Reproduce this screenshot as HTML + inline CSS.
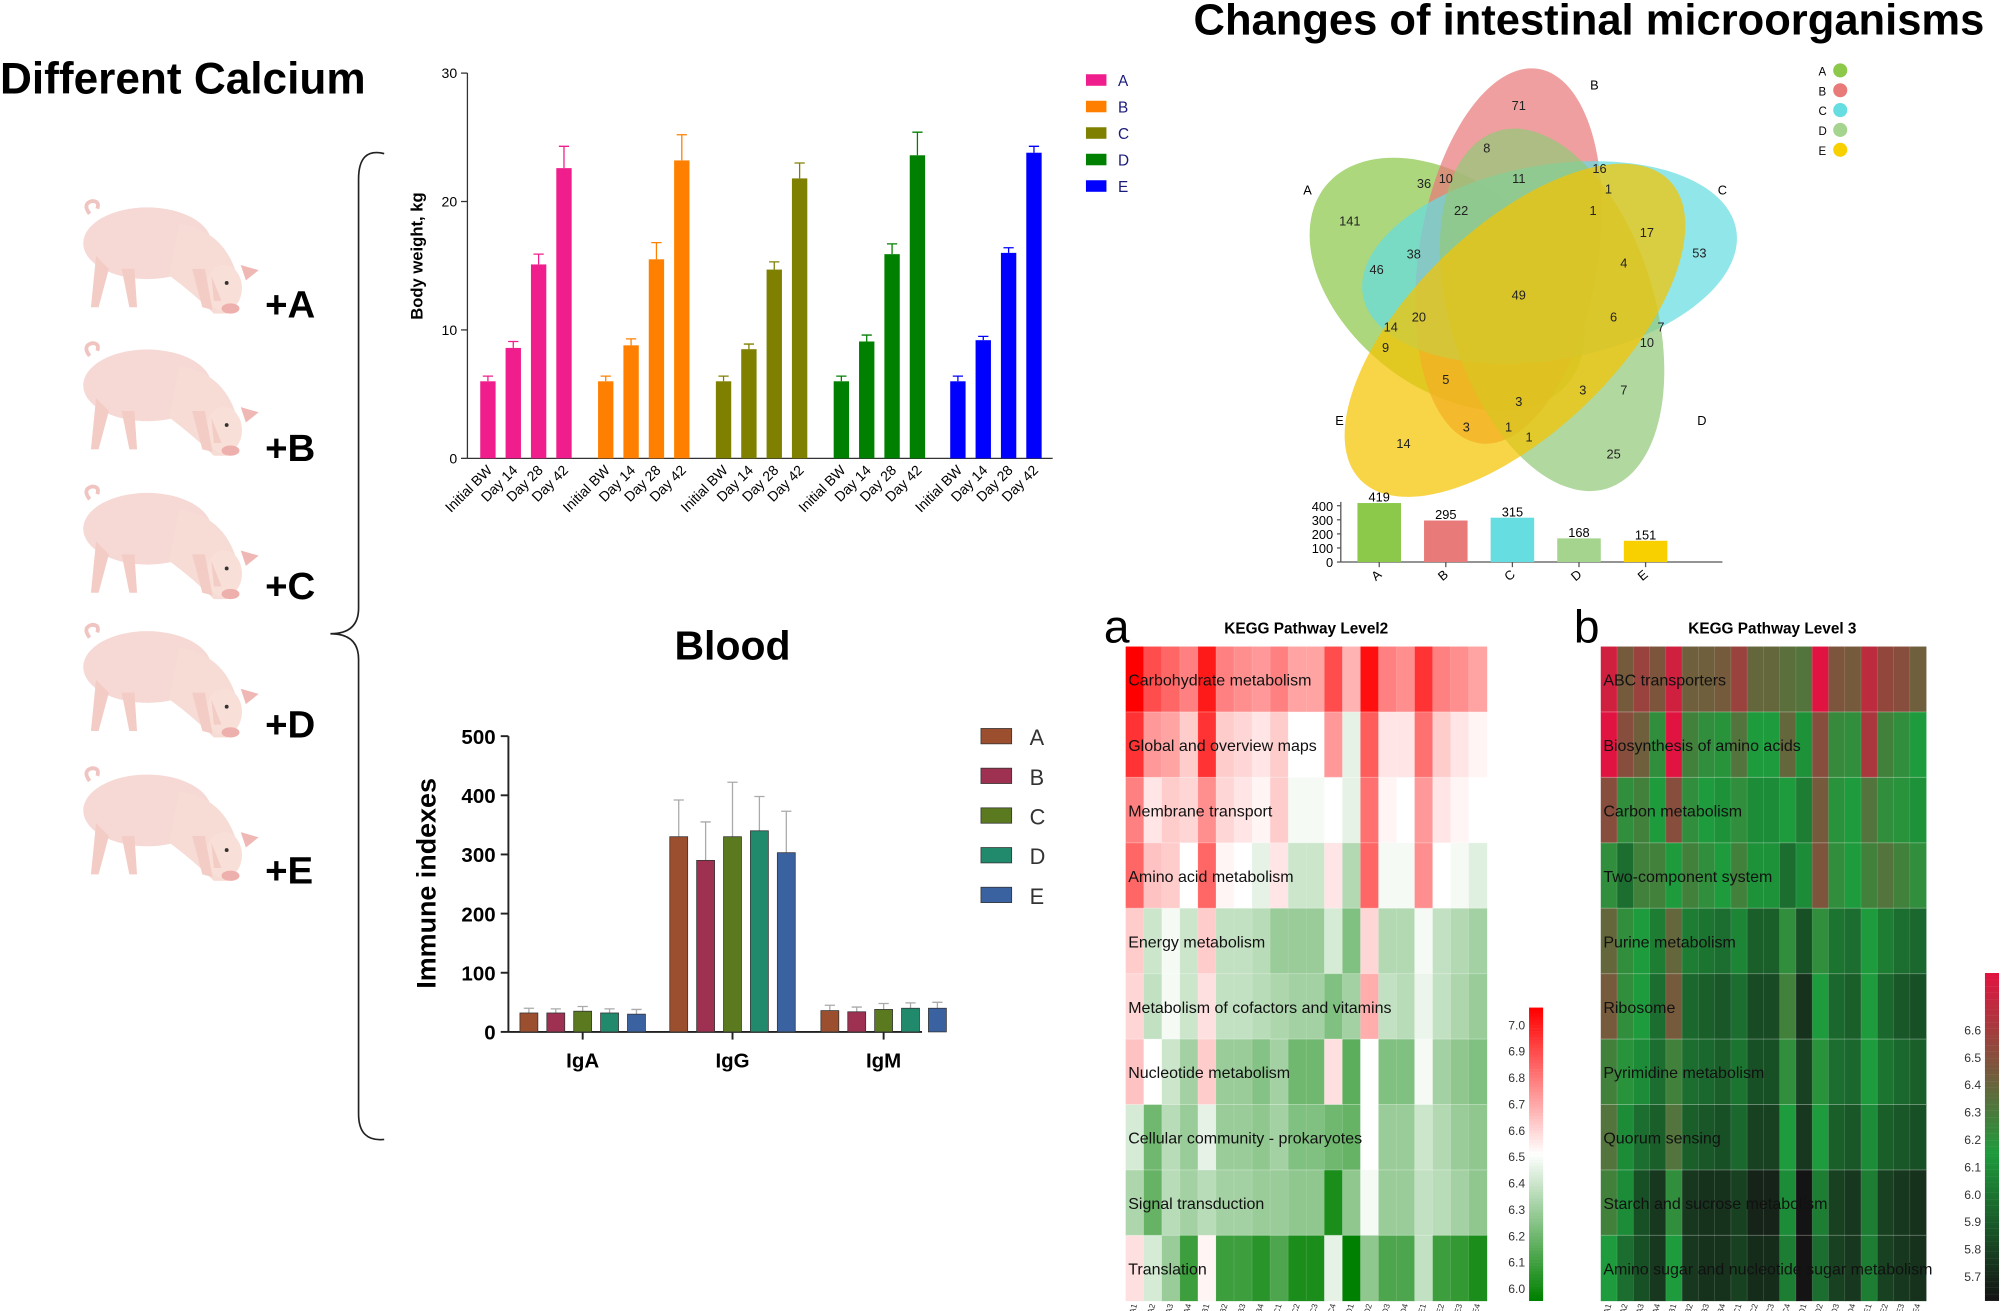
<!DOCTYPE html>
<html><head><meta charset="utf-8"><style>
html,body{margin:0;padding:0;background:#fff;width:2008px;height:1311px;overflow:hidden}
svg{display:block}
text{font-family:"Liberation Sans",Arial,sans-serif}
</style></head><body>
<svg id="s" width="2008" height="1311" viewBox="0 0 1568 1024" preserveAspectRatio="none" xmlns="http://www.w3.org/2000/svg">
<defs>
<g id="pig">
<path d="M70,12 q-6,-8 2,-10 q6,0 4,6" fill="none" stroke="#f0c4c0" stroke-width="3"/>
<ellipse cx="115" cy="35" rx="50" ry="28" fill="#f6d8d4"/>
<path d="M140,20 q35,5 45,40 q5,20 -8,30 l-10,0 q-15,-15 -35,-30 z" fill="#f7dcd6"/>
<ellipse cx="175" cy="70" rx="14" ry="18" fill="#f8e0d8"/>
<path d="M188,52 l14,4 -10,8 z" fill="#f0b8b4"/>
<ellipse cx="180" cy="86" rx="7" ry="4" fill="#eeb0ac"/>
<path d="M75,45 l-4,40 6,0 8,-30 z M95,55 l6,30 6,0 -2,-30 z M150,55 l8,30 8,2 -6,-32 z M165,60 l2,20 6,0 z" fill="#f3ccc6"/>
<circle cx="177" cy="66" r="1.5" fill="#333"/>
</g>
</defs>
<text x="0" y="73" font-size="34.5" font-weight="bold">Different Calcium</text>
<use href="#pig" x="0" y="155"/><text x="207" y="248" font-size="30" font-weight="bold">+A</text>
<use href="#pig" x="0" y="266"/><text x="207" y="360" font-size="30" font-weight="bold">+B</text>
<use href="#pig" x="0" y="378"/><text x="207" y="468" font-size="30" font-weight="bold">+C</text>
<use href="#pig" x="0" y="486"/><text x="207" y="576" font-size="30" font-weight="bold">+D</text>
<use href="#pig" x="0" y="598"/><text x="207" y="690" font-size="30" font-weight="bold">+E</text>
<path d="M300,120 q-20,-5 -20,20 l0,335 q0,20 -22,20 q22,0 22,20 l0,355 q0,22 20,20" fill="none" stroke="#222" stroke-width="1.3"/>
<g id="bw"></g>
<g id="blood"></g>
<g id="venn"></g>
<g id="hm"></g>
</svg>
<script>
var NS="http://www.w3.org/2000/svg";
function el(p,t,a,txt){var e=document.createElementNS(NS,t);for(var k in a)e.setAttribute(k,a[k]);if(txt!==undefined)e.textContent=txt;p.appendChild(e);return e;}
var g=document.getElementById('bw');
el(g,'line',{x1:365,y1:57,x2:365,y2:358,stroke:'#333','stroke-width':1});
el(g,'line',{x1:365,y1:358,x2:822,y2:358,stroke:'#333','stroke-width':1});
[0,10,20,30].forEach(function(v){var y=358-v*10.03;el(g,'line',{x1:360,y1:y,x2:365,y2:y,stroke:'#333'});el(g,'text',{x:357,y:y+4,'font-size':11,'text-anchor':'end'},v);});
el(g,'text',{x:330,y:200,'font-size':13,'font-weight':'bold','text-anchor':'middle',transform:'rotate(-90 330 200)'},'Body weight, kg');
var cols=['#f01e8c','#ff8000','#808000','#008000','#0000ff'];
var vals=[[6,8.6,15.1,22.6],[6,8.8,15.5,23.2],[6,8.5,14.7,21.8],[6,9.1,15.9,23.6],[6,9.2,16,23.8]];
var errs=[[.4,.5,.8,1.7],[.4,.5,1.3,2],[.4,.4,.6,1.2],[.4,.5,.8,1.8],[.4,.3,.4,.5]];
var gx=[381,473,565,657,748];var lab=['Initial BW','Day 14','Day 28','Day 42'];
for(var i=0;i<5;i++)for(var j=0;j<4;j++){var cx=gx[i]+j*19.8,h=vals[i][j]*10.03,y=358-h;
el(g,'rect',{x:cx-6,y:y,width:12,height:h,fill:cols[i]});
var ey=358-(vals[i][j]+errs[i][j])*10.03;el(g,'path',{d:'M'+cx+','+y+'V'+ey+'M'+(cx-4)+','+ey+'h8',stroke:cols[i],fill:'none'});
el(g,'text',{x:cx+4,y:368,'font-size':11,'text-anchor':'end',transform:'rotate(-45 '+(cx+4)+' 368)'},lab[j]);}
['A','B','C','D','E'].forEach(function(l,i){var y=63+i*20.7;el(g,'rect',{x:848,y:y-5,width:16,height:9,fill:cols[i]});el(g,'text',{x:873,y:y+4,'font-size':12,fill:'#1a1a7a'},l);});
g=document.getElementById('blood');
el(g,'text',{x:572,y:515,'font-size':32,'font-weight':'bold','text-anchor':'middle'},'Blood');
el(g,'line',{x1:397,y1:575,x2:397,y2:806,stroke:'#222','stroke-width':1.5});
el(g,'line',{x1:397,y1:806,x2:720,y2:806,stroke:'#222','stroke-width':1.5});
for(var v=0;v<=500;v+=100){var y=806-v*0.462;el(g,'line',{x1:391,y1:y,x2:397,y2:y,stroke:'#222','stroke-width':1.5});el(g,'text',{x:387,y:y+6,'font-size':16,'font-weight':'bold','text-anchor':'end'},v);}
el(g,'text',{x:340,y:690,'font-size':21,'font-weight':'bold','text-anchor':'middle',transform:'rotate(-90 340 690)'},'Immune indexes');
var bc=['#9c4f2e','#9e3152','#5b7a20','#218a6c','#3a62a0'];
var bv=[[32,32,35,32,30],[330,290,330,340,303],[36,34,38,40,40]];var be=[[8,7,8,7,8],[62,65,92,58,70],[9,8,10,9,10]];
var cen=[455,572,690];['IgA','IgG','IgM'].forEach(function(n,i){el(g,'line',{x1:cen[i],y1:806,x2:cen[i],y2:812,stroke:'#222','stroke-width':1.5});el(g,'text',{x:cen[i],y:834,'font-size':16,'font-weight':'bold','text-anchor':'middle'},n);
for(var j=0;j<5;j++){var cx=cen[i]-42+j*21,h=bv[i][j]*0.462,y=806-h,ey=806-(bv[i][j]+be[i][j])*0.462;
el(g,'path',{d:'M'+cx+','+y+'V'+ey+'M'+(cx-4)+','+ey+'h8',stroke:'#aaa',fill:'none'});
el(g,'rect',{x:cx-7,y:y,width:14,height:h,fill:bc[j],stroke:'#333','stroke-width':.6});}});
['A','B','C','D','E'].forEach(function(l,i){var y=575+i*31;el(g,'rect',{x:766,y:y-6,width:24,height:12,fill:bc[i],stroke:'#333','stroke-width':.6});el(g,'text',{x:804,y:y+7,'font-size':17,fill:'#333'},l);});
g=document.getElementById('venn');
el(g,'text',{x:932,y:27,'font-size':34,'font-weight':'bold'},'Changes of intestinal microorganisms');
var E=[['#8cc84a',1130,222,122,80,39],['#e97a7a',1178,200,70,148,9],['#66dde0',1210,205,148,76,-10],['#93c97a',1212,242,80,146,-17],['#f5c400',1183,258,168,80,-44]];
E.forEach(function(e){el(g,'ellipse',{cx:0,cy:0,rx:e[3],ry:e[4],fill:e[0],'fill-opacity':0.72,transform:'translate('+e[1]+','+e[2]+') rotate('+e[5]+')'});});
var N=[[1186,82,71],[1161,115,8],[1249,131,16],[1112,143,36],[1129,139,10],[1186,139,11],[1256,147,1],[1244,164,1],[1141,164,22],[1054,172,141],[1286,181,17],[1327,197,53],[1104,198,38],[1268,205,4],[1075,210,46],[1186,230,49],[1108,247,20],[1260,247,6],[1086,255,14],[1297,255,7],[1082,271,9],[1286,267,10],[1129,296,5],[1236,304,3],[1268,304,7],[1186,313,3],[1145,333,3],[1178,333,1],[1194,341,1],[1096,346,14],[1260,354,25]];
N.forEach(function(n){el(g,'text',{x:n[0],y:n[1]+4,'font-size':10,'text-anchor':'middle',fill:'#222'},n[2]);});
[['A',1021,148],['B',1245,66],['C',1345,148],['D',1329,328],['E',1046,328]].forEach(function(t){el(g,'text',{x:t[1],y:t[2]+4,'font-size':10,'text-anchor':'middle'},t[0]);});
var vc=['#8cc84a','#e97a7a','#66dde0','#a5d48e','#f8d000'];
['A','B','C','D','E'].forEach(function(l,i){var y=55+i*15.5;el(g,'text',{x:1420,y:y+4,'font-size':9},l);el(g,'circle',{cx:1437,cy:y,r:5.5,fill:vc[i]});});
el(g,'line',{x1:1047,y1:392,x2:1047,y2:439,stroke:'#555'});el(g,'line',{x1:1047,y1:439,x2:1345,y2:439,stroke:'#555'});
[0,100,200,300,400].forEach(function(v){var y=439-v*0.11;el(g,'line',{x1:1044,y1:y,x2:1047,y2:y,stroke:'#555'});el(g,'text',{x:1041,y:y+4,'font-size':10,'text-anchor':'end'},v);});
[419,295,315,168,151].forEach(function(v,i){var cx=1077+i*52,h=v*0.11;el(g,'rect',{x:cx-17,y:439-h,width:34,height:h,fill:vc[i]});el(g,'text',{x:cx,y:439-h-1,'font-size':10,'text-anchor':'middle'},v);el(g,'line',{x1:cx,y1:439,x2:cx,y2:443,stroke:'#555'});el(g,'text',{x:cx,y:452,'font-size':10,'text-anchor':'middle',transform:'rotate(-40 '+cx+' 452)'},['A','B','C','D','E'][i]);});
g=document.getElementById('hm');
var A=[[1,.85,.8,.75,.95,.75,.72,.7,.75,.68,.68,.85,.65,.97,.75,.72,.9,.75,.72,.68],[.9,.7,.68,.6,.9,.6,.58,.55,.6,.5,.5,.7,.45,.82,.55,.55,.78,.6,.55,.52],[.75,.55,.6,.58,.72,.58,.55,.52,.6,.48,.48,.5,.45,.78,.52,.5,.7,.55,.52,.5],[.8,.62,.6,.5,.8,.52,.5,.45,.55,.4,.4,.55,.35,.8,.48,.48,.72,.5,.48,.44],[.6,.4,.48,.4,.6,.38,.38,.36,.3,.3,.3,.42,.25,.58,.35,.35,.48,.38,.35,.32],[.58,.38,.48,.4,.56,.38,.38,.36,.34,.32,.32,.25,.32,.66,.38,.36,.46,.38,.34,.3],[.62,.5,.4,.32,.6,.3,.3,.26,.32,.22,.22,.56,.18,.5,.25,.25,.48,.32,.28,.25],[.42,.22,.36,.3,.45,.3,.3,.28,.32,.25,.25,.22,.2,.5,.3,.3,.4,.35,.3,.28],[.34,.2,.36,.32,.36,.32,.32,.3,.3,.28,.28,.05,.28,.48,.3,.3,.38,.36,.32,.28],[.56,.42,.3,.12,.52,.12,.12,.08,.15,.05,.05,.45,0,.28,.15,.15,.38,.12,.1,.05]];
var B=[[.95,.7,.8,.72,.95,.68,.68,.7,.8,.65,.65,.62,.6,1,.72,.7,.9,.78,.75,.68],[1,.75,.68,.5,1,.55,.5,.48,.6,.45,.45,.65,.42,.75,.52,.5,.85,.55,.5,.45],[.75,.5,.55,.45,.75,.5,.45,.42,.5,.4,.4,.45,.35,.7,.48,.45,.6,.5,.48,.42],[.5,.3,.55,.55,.45,.55,.5,.45,.55,.42,.42,.3,.4,.72,.5,.45,.55,.6,.55,.5],[.65,.5,.45,.35,.65,.35,.32,.3,.38,.25,.25,.5,.2,.5,.32,.3,.45,.35,.3,.28],[.7,.5,.45,.3,.7,.28,.25,.22,.3,.18,.18,.55,.1,.45,.28,.25,.45,.28,.22,.2],[.55,.48,.4,.3,.55,.3,.28,.25,.32,.2,.2,.5,.15,.48,.3,.28,.45,.32,.28,.25],[.6,.4,.3,.25,.6,.25,.22,.2,.28,.15,.15,.45,.12,.45,.25,.22,.4,.25,.22,.2],[.55,.4,.2,.12,.5,.12,.1,.1,.15,.05,.05,.4,0,.35,.15,.12,.35,.15,.12,.1],[.45,.3,.2,.12,.45,.12,.1,.1,.15,.08,.08,.35,0,.3,.15,.12,.35,.15,.12,.1]];
function mix(a,b,t){return 'rgb('+a.map(function(x,i){return Math.round(x+(b[i]-x)*t)}).join(',')+')';}
function ca(v){return v<.5?mix([0,128,0],[255,255,255],v/.5):mix([255,255,255],[255,0,0],(v-.5)/.5);}
var stops=[[0,[20,20,20]],[.45,[30,155,60]],[.72,[125,85,60]],[1,[225,20,65]]];
function cb(v){for(var i=1;i<stops.length;i++)if(v<=stops[i][0]){var a=stops[i-1],b=stops[i];return mix(a[1],b[1],(v-a[0])/(b[0]-a[0]));}return 'rgb(225,20,65)';}
var cl=[];['A','B','C','D','E'].forEach(function(l){for(var k=1;k<5;k++)cl.push('i'+l+k);});
var ra=['Carbohydrate metabolism','Global and overview maps','Membrane transport','Amino acid metabolism','Energy metabolism','Metabolism of cofactors and vitamins','Nucleotide metabolism','Cellular community - prokaryotes','Signal transduction','Translation'];
var rb=['ABC transporters','Biosynthesis of amino acids','Carbon metabolism','Two-component system','Purine metabolism','Ribosome','Pyrimidine metabolism','Quorum sensing','Starch and sucrose metabolism','Amino sugar and nucleotide sugar metabolism'];
function hm(x0,x1,y0,y1,M,f,rows,title,tx,letter,lx){var cw=(x1-x0)/20,rh=(y1-y0)/10;
for(var r=0;r<10;r++){for(var c=0;c<20;c++)el(g,'rect',{x:x0+c*cw,y:y0+r*rh,width:cw+.3,height:rh+.3,fill:f(M[r][c])});}
for(var r=1;r<10;r++)el(g,'line',{x1:x0,y1:y0+r*rh,x2:x1,y2:y0+r*rh,stroke:'#fff','stroke-opacity':.35,'stroke-width':.7});
for(var c=1;c<20;c++)el(g,'line',{x1:x0+c*cw,y1:y0,x2:x0+c*cw,y2:y1,stroke:'#fff','stroke-opacity':.2,'stroke-width':.5});
for(var r=0;r<10;r++)el(g,'text',{x:x0+2,y:y0+r*rh+rh/2+5,'font-size':12.5,fill:'#111'},rows[r]);
for(var c=0;c<20;c++){var cx=x0+c*cw+cw/2+2;el(g,'text',{x:cx,y:y1+3,'font-size':6.5,'text-anchor':'end',fill:'#333',transform:'rotate(-75 '+cx+' '+(y1+3)+')'},cl[c]);}
el(g,'text',{x:tx,y:495,'font-size':12,'font-weight':'bold','text-anchor':'middle'},title);
el(g,'text',{x:lx,y:502,'font-size':36},letter);}
hm(879,1161,505,1016,A,ca,ra,'KEGG Pathway Level2',1020,'a',862);
hm(1250,1504,505,1016,B,cb,rb,'KEGG Pathway Level 3',1384,'b',1229);
for(var i=0;i<100;i++){var y=787+i*2.29;el(g,'rect',{x:1194,y:y,width:11,height:2.5,fill:ca(1-i/99)});}
for(var k=0;k<=10;k++){var y=800+k*20.6;el(g,'text',{x:1191,y:y+4,'font-size':9.5,'text-anchor':'end',fill:'#333'},(7-k/10).toFixed(1));}
for(var i=0;i<100;i++){var y=760+i*2.56;el(g,'rect',{x:1550,y:y,width:11,height:2.7,fill:cb(1-i/99)});}
for(var k=0;k<=9;k++){var y=804+k*21.4;el(g,'text',{x:1547,y:y+4,'font-size':9.5,'text-anchor':'end',fill:'#333'},(6.6-k/10).toFixed(1));}
</script>
</body></html>
